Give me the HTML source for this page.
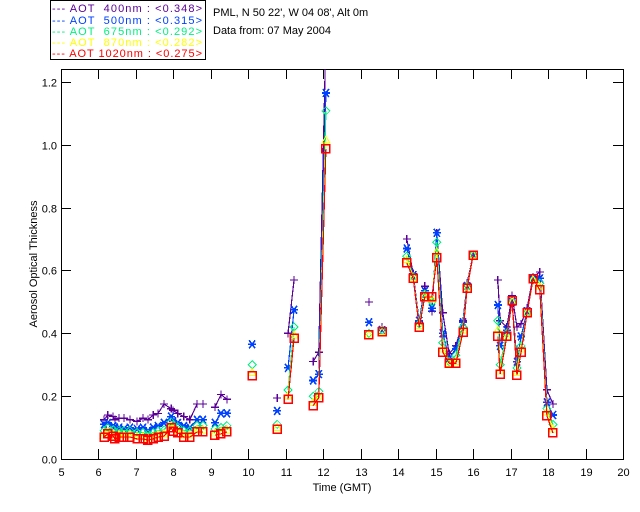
<!DOCTYPE html>
<html><head><meta charset="utf-8"><style>
body{margin:0;background:#fff;width:640px;height:512px;overflow:hidden}
svg{display:block;font-family:"Liberation Sans",sans-serif}
</style></head><body>
<svg id="chart" width="640" height="512" xmlns="http://www.w3.org/2000/svg">
<g>
<rect x="50.5" y="0.5" width="155" height="59" fill="#fff" stroke="#000"/>
<text x="52" y="12" font-size="11" fill="#5a0096" textLength="150" xml:space="preserve">--- AOT  400nm : &lt;0.348&gt;</text>
<text x="52" y="24" font-size="11" fill="#0040ff" textLength="150" xml:space="preserve">--- AOT  500nm : &lt;0.315&gt;</text>
<text x="52" y="35" font-size="11" fill="#00f080" textLength="150" xml:space="preserve">--- AOT  675nm : &lt;0.292&gt;</text>
<text x="52" y="46" font-size="11" fill="#ffff00" textLength="150" xml:space="preserve">--- AOT  870nm : &lt;0.282&gt;</text>
<text x="52" y="57" font-size="11" fill="#ff0000" textLength="150" xml:space="preserve">--- AOT 1020nm : &lt;0.275&gt;</text>
</g>
<text x="213" y="16" font-size="11">PML, N 50 22', W 04 08', Alt 0m</text>
<text x="213" y="34" font-size="11">Data from: 07 May 2004</text>
<text x="342" y="491" font-size="11" text-anchor="middle">Time (GMT)</text>
<text transform="translate(37,264) rotate(-90)" font-size="11" text-anchor="middle">Aerosol Optical Thickness</text>
<defs><clipPath id="pc"><rect x="61" y="69" width="562" height="390"/></clipPath></defs>
<g id="axes"></g>
<g id="plot" clip-path="url(#pc)" shape-rendering="crispEdges"></g>
</svg>
<script>
const times=[6.15,6.25,6.39,6.44,6.55,6.68,6.84,7.03,7.19,7.32,7.46,7.59,7.75,7.94,7.99,8.12,8.28,8.44,8.63,8.79,9.11,9.27,9.43,
10.1,10.77,11.06,11.22,11.73,11.88,12.07,13.22,13.57,
14.23,14.4,14.56,14.71,14.9,15.03,15.19,15.36,15.54,15.73,15.84,16.0,
16.66,16.72,16.9,17.04,17.17,17.28,17.44,17.6,17.78,17.97,18.13];
const aot400=[.125,.14,.135,.125,.13,.13,.125,.12,.13,.125,.14,.145,.175,.16,.155,.145,.135,.125,.175,.175,.165,.205,.19,
null,.194,.40,.57,.31,.34,1.35,.50,.42,
.70,.59,.436,.55,.47,.72,.465,.335,.36,.44,.56,.65,
.57,.44,.42,.52,.42,.43,.48,.58,.595,.22,.175];
const aot500=[.11,.115,.105,.10,.10,.095,.10,.095,.10,.09,.10,.105,.115,.135,.12,.115,.105,.10,.125,.125,.115,.145,.145,
.365,.153,.29,.475,.25,.27,1.165,.435,.41,
.67,.585,.44,.535,.48,.72,.40,.32,.35,.435,.55,.65,
.49,.36,.41,.50,.31,.39,.47,.575,.575,.18,.14];
const aot675=[.09,.10,.093,.085,.09,.09,.09,.084,.084,.08,.084,.09,.093,.118,.108,.103,.09,.09,.106,.106,.096,.10,.106,
.30,.11,.22,.42,.20,.215,1.108,.40,.41,
.645,.58,.43,.525,.50,.69,.37,.31,.33,.42,.55,.65,
.44,.30,.40,.50,.29,.36,.465,.57,.56,.16,.11];
const aot870=[.077,.087,.08,.071,.077,.077,.077,.071,.071,.067,.071,.077,.08,.106,.096,.09,.077,.077,.093,.093,.083,.087,.093,
.275,.10,.20,.395,.18,.20,1.015,.395,.405,
.635,.578,.425,.52,.51,.66,.35,.305,.31,.41,.547,.65,
.41,.28,.39,.50,.275,.35,.465,.57,.55,.15,.095];
const aot1020=[.070,.080,.073,.064,.070,.070,.070,.064,.064,.060,.064,.070,.073,.099,.089,.083,.070,.070,.086,.086,.076,.080,.086,
.265,.095,.19,.385,.17,.195,.987,.395,.405,
.624,.576,.42,.516,.516,.64,.34,.305,.305,.404,.544,.649,
.39,.27,.39,.503,.267,.34,.465,.573,.538,.137,.083];
const xTicks=[5,6,7,8,9,10,11,12,13,14,15,16,17,18,19,20];
const yTicks=[0,0.2,0.4,0.6,0.8,1.0,1.2];

const NS='http://www.w3.org/2000/svg';
const L=61,R=623,T=69,B=459;
const xs=t=>L+(t-5)*(R-L)/15;
const ys=v=>B-v*314.2;
function mk(tag,attrs,parent){const e=document.createElementNS(NS,tag);for(const k in attrs)e.setAttribute(k,attrs[k]);parent.appendChild(e);return e;}
const ax=document.getElementById('axes'),pl=document.getElementById('plot');
const frame=mk('rect',{x:L+.5,y:T+.5,width:R-L,height:B-T,fill:'none',stroke:'#000'},ax);


xTicks.forEach(t=>{const x=Math.round(xs(t))+.5;
 mk('line',{x1:x,x2:x,y1:B,y2:B-10,stroke:'#000'},ax);
 mk('line',{x1:x,x2:x,y1:T,y2:T+10,stroke:'#000'},ax);
 const tx=mk('text',{x:x,y:B+17,'font-size':11,'text-anchor':'middle'},ax);tx.textContent=t;
 
 
});
yTicks.forEach(v=>{const y=Math.round(ys(v))+.5;
 mk('line',{x1:L,x2:L+10,y1:y,y2:y,stroke:'#000'},ax);
 mk('line',{x1:R,x2:R-10,y1:y,y2:y,stroke:'#000'},ax);
 const tx=mk('text',{x:L-4,y:y+4,'font-size':11,'text-anchor':'end'},ax);tx.textContent=v.toFixed(1);
 
 
});
const series=[[aot400,'#5a0096','plus'],[aot500,'#0040ff','star'],[aot675,'#00f080','diamond'],[aot870,'#ffff00','tri'],[aot1020,'#ff0000','square']];
function marker(kind,x,y,c,g){const s=4;
 if(kind==='plus'){mk('path',{d:`M${x-s} ${y}H${x+s}M${x} ${y-s}V${y+s}`,stroke:c,fill:'none','stroke-width':1.3},g);}
 else if(kind==='star'){mk('path',{d:`M${x-s} ${y}H${x+s}M${x-3} ${y-4}L${x+3} ${y+4}M${x+3} ${y-4}L${x-3} ${y+4}`,stroke:c,fill:'none','stroke-width':1.6},g);}
 else if(kind==='diamond'){mk('path',{d:`M${x} ${y-s}L${x+s} ${y}L${x} ${y+s}L${x-s} ${y}Z`,stroke:c,fill:'none'},g);}
 else if(kind==='tri'){mk('path',{d:`M${x} ${y-s}L${x+s} ${y+3}L${x-s} ${y+3}Z`,stroke:c,fill:'none'},g);}
 else {mk('rect',{x:x-4,y:y-4,width:8,height:8,stroke:c,fill:'none','stroke-width':1.5},g);}
}
series.forEach(([vals,c,kind],si)=>{
 const g=mk('g',{},pl);
 
 
 let d='';let prev=null;
 times.forEach((t,i)=>{const v=vals[i];if(v==null){prev=null;return;}
  const x=xs(t),y=ys(v);
  if(prev!==null&&t-prev<0.25)d+=`L${x} ${y}`;else d+=`M${x} ${y}`;prev=t;});
 const p=mk('path',{d:d,stroke:c,fill:'none','stroke-width':1.2},g);
 
 
 times.forEach((t,i)=>{const v=vals[i];if(v==null)return;marker(kind,xs(t),ys(v),c,g);});
});
</script>
</body></html>
